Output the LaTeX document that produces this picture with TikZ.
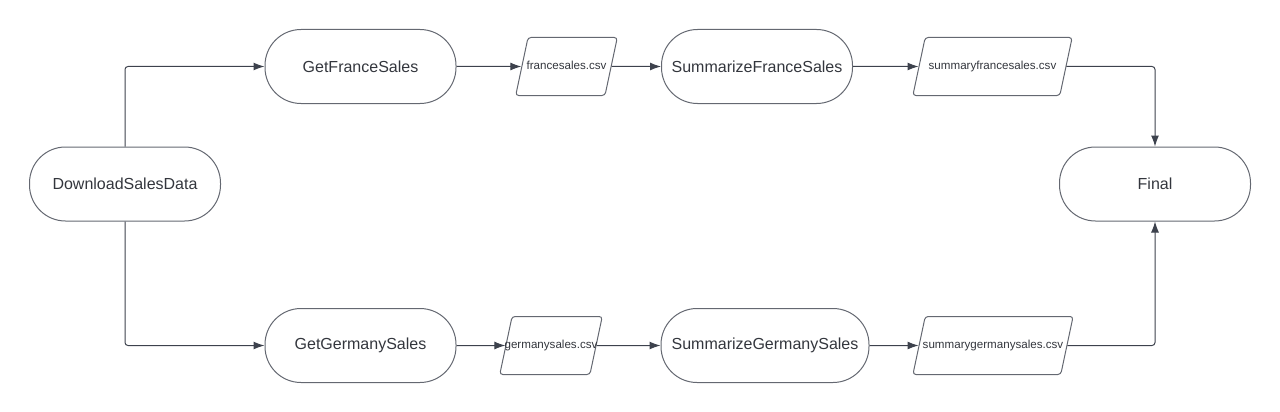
\documentclass[tikz,border=0pt]{standalone}
\usepackage{fontspec}
\setmainfont{Liberation Sans}
\usepackage{tikz}
\usetikzlibrary{arrows.meta,shapes.geometric,positioning}
\tikzset{>={Latex[length=11pt,width=8pt]}}
\definecolor{linegray}{HTML}{3D424D}
\definecolor{textgray}{HTML}{33363D}
\tikzset{
    task/.style={draw=linegray!80, line width=1pt, rectangle, rounded corners=36pt, minimum width=191pt, minimum height=74pt, inner sep=2pt, text=textgray, font=\fontsize{16}{19}\selectfont},
    datafile/.style={draw=linegray!80, line width=1pt, trapezium, trapezium left angle=78, trapezium right angle=102, rounded corners=3pt, text height=8.5pt, text depth=2.5pt, inner ysep=23.5pt, inner xsep=0pt, text=textgray, font=\fontsize{11.6}{14}\selectfont},
    flow/.style={->, draw=linegray, line width=1pt, rounded corners=3pt},
}

\begin{document}
\begin{tikzpicture}[x=1pt, y=-1pt]
    \useasboundingbox (0,0) rectangle (1280,412);

    \node[task] (download) at (125, 184) {DownloadSalesData}; % start
    \node[task] (final) at (1155, 184) {Final}; % end

    % France branch
    \node[task] (getfrance) at (360.5, 66.5) {GetFranceSales};
    \node[datafile, inner xsep=-1.5pt] (francecsv) at (566.5, 66.5) {francesales.csv};
    \node[task] (sumfrance) at (757, 66.5) {SummarizeFranceSales};
    \node[datafile, inner xsep=3.5pt] (sumfrancecsv) at (992.5, 66.5) {summaryfrancesales.csv};

    % Germany branch
    \node[task] (getgermany) at (360.5, 345.5) {GetGermanySales};
    \node[datafile, inner xsep=-7.5pt] (germanycsv) at (551, 345.5) {germanysales.csv};
    \node[task, minimum width=208pt] (sumgermany) at (765, 345.5) {SummarizeGermanySales};
    \node[datafile, inner xsep=-2.5pt] (sumgermanycsv) at (993, 345.5) {summarygermanysales.csv};

    \draw[flow] (download.north) |- (getfrance.west);
    \draw[flow] (getfrance) -- (francecsv);
    \draw[flow] (francecsv) -- (sumfrance);
    \draw[flow] (sumfrance) -- (sumfrancecsv);
    \draw[flow] (sumfrancecsv.east) -| (final.north);

    \draw[flow] (download.south) |- (getgermany.west);
    \draw[flow] (getgermany) -- (germanycsv);
    \draw[flow] (germanycsv) -- (sumgermany);
    \draw[flow] (sumgermany) -- (sumgermanycsv);
    \draw[flow] (sumgermanycsv.east) -| (final.south);
\end{tikzpicture}
\end{document}
